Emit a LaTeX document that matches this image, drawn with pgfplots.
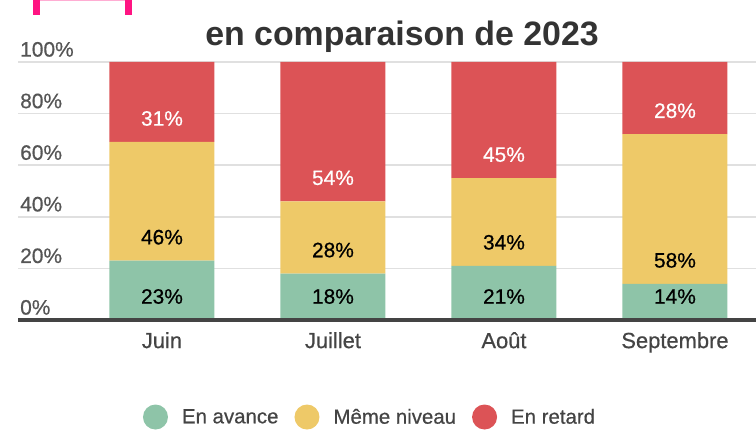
\documentclass[border=0pt]{standalone}
\usepackage{pgfplots}
\pgfplotsset{compat=1.18}
\usepackage{fontspec}
\setmainfont{Liberation Sans}
\newfontfamily\medfont{Liberation Sans}[FakeBold=0.6]
\definecolor{greenc}{RGB}{142,196,168}
\definecolor{yellowc}{RGB}{238,201,104}
\definecolor{redc}{RGB}{220,83,86}
\definecolor{gridc}{RGB}{224,224,224}
\definecolor{basec}{RGB}{68,68,68}
\definecolor{tickc}{RGB}{85,85,85}
\definecolor{titlec}{RGB}{51,51,51}
\definecolor{pinkc}{RGB}{255,20,130}
\pgfplotsset{
  common/.style={
    at={(18bp,112bp)}, anchor=south west,
    scale only axis, width=738bp, height=258bp,
    xmin=-0.842, xmax=3.474, ymin=0, ymax=100,
    /pgf/number format/assume math mode=true,
  },
  lbl/.style={draw=none, mark=none, point meta=explicit symbolic,
    nodes near coords={\pgfplotspointmeta\%},
    every node near coord/.append style={font=\medfont\fontsize{21}{21}\selectfont, anchor=center, inner sep=0pt, yshift=23.5bp, text=#1}},
}
\begin{document}
\begin{tikzpicture}[x=1bp,y=1bp]
\path[use as bounding box] (0,0) rectangle (756,432);
\fill[pinkc] (33,417) rectangle (40,432);
\fill[pinkc] (125,417) rectangle (132,432);
\fill[pinkc!35] (40,430.5) rectangle (125,432);
\node[font=\bfseries\fontsize{34}{34}\selectfont, text=titlec, anchor=base] at (402,387) {en comparaison de 2023};
\begin{axis}[
  common,
  ybar stacked, bar width=105bp,
  xtick={0,1,2,3}, xticklabels={Juin,Juillet,Août,Septembre},
  ytick={0,20,40,60,80,100},
  yticklabel={\pgfmathprintnumber{\tick}\%},
  ymajorgrids, grid style={gridc, line width=1.5bp},
  axis line style={draw=none}, major tick length=0pt,
  tick style={draw=none},
  xticklabel style={font=\medfont\fontsize{22}{22}\selectfont, text=basec, inner sep=0pt, anchor=north, yshift=-12bp},
  yticklabel style={font=\medfont\fontsize{21}{21}\selectfont, text=tickc, inner sep=0pt, anchor=south west, yshift=5bp, xshift=2bp},
  legend columns=3,
  legend style={at={(0.477,-0.376)}, anchor=center, draw=none, fill=none,
    font=\medfont\fontsize{20.5}{20.5}\selectfont, text=basec,
    /tikz/every odd column/.append style={column sep=12bp},
    /tikz/every even column/.append style={column sep=14bp}},
  after end axis/.code={\draw[basec, line width=3.5bp] (rel axis cs:0,0) -- (rel axis cs:1,0);},
]
\addplot[fill=greenc, draw=none,
  legend image code/.code={\fill[greenc] (0bp,0bp) circle (12.5bp);}]
  coordinates {(0,23) (1,18) (2,21) (3,14)};
\addlegendentry{En avance}
\addplot[fill=yellowc, draw=none,
  legend image code/.code={\fill[yellowc] (0bp,0bp) circle (12.5bp);}]
  coordinates {(0,46) (1,28) (2,34) (3,58)};
\addlegendentry{Même niveau}
\addplot[fill=redc, draw=none,
  legend image code/.code={\fill[redc] (0bp,0bp) circle (12.5bp);}]
  coordinates {(0,31) (1,54) (2,45) (3,28)};
\addlegendentry{En retard}
\end{axis}
\begin{axis}[common, hide axis]
% labels placed from the bottom of each segment
\addplot[lbl=black] coordinates {(0,0) [23] (1,0) [18] (2,0) [21] (3,0) [14]};
\addplot[lbl=black] coordinates {(0,23) [46] (1,18) [28] (2,21) [34] (3,14) [58]};
\addplot[lbl=white] coordinates {(0,69) [31] (1,46) [54] (2,55) [45] (3,72) [28]};
\end{axis}
\end{tikzpicture}
\end{document}
